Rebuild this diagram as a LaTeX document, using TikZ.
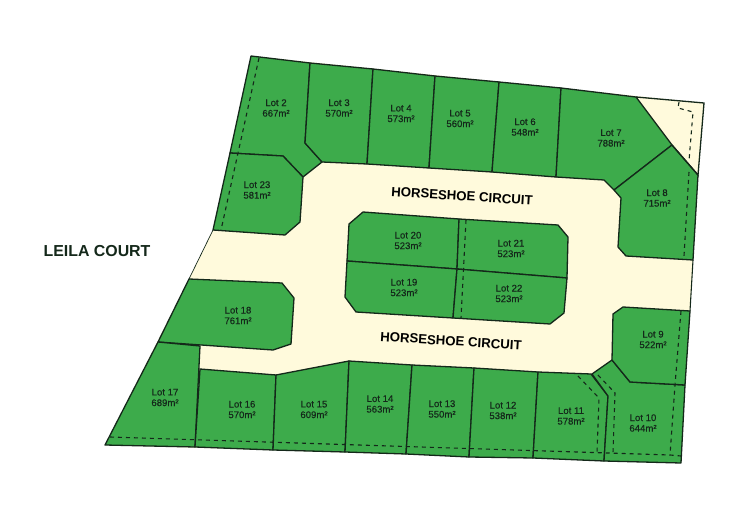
\documentclass[tikz,border=0pt]{standalone}
\usepackage{fontspec}
\setmainfont{Liberation Sans}
\newfontfamily\lotfont[FakeBold=0.3]{Liberation Sans}
\definecolor{lotgreen}{HTML}{3DAB4B}
\definecolor{road}{HTML}{FFFADC}
\definecolor{ink}{HTML}{14281A}
\tikzset{
  lot/.style={fill=lotgreen,draw=ink,line width=1.3pt,line join=round},
  easement/.style={draw=ink,line width=1.1pt,dash pattern=on 4pt off 4pt},
  boundary/.style={draw=ink,line width=0.7pt},
  lotlabel/.style={font=\lotfont\fontsize{9.6}{10.6}\selectfont,text=ink,align=center,inner sep=0pt},
  roadlabel/.style={font=\fontsize{13.2}{15}\selectfont\bfseries,text=black,inner sep=0pt,rotate=-3.6},
  courtlabel/.style={font=\fontsize{15.9}{18}\selectfont\bfseries,text=ink,inner sep=0pt}
}
\newcommand{\lotlab}[4]{\node[lotlabel] (lab#1) at (#2,#3) {Lot #1\\#4};}
\begin{document}
\begin{tikzpicture}[x=1pt,y=-1pt]
\useasboundingbox (0,0) rectangle (750,529);
\fill[white] (0,0) rectangle (750,529);
% land
\fill[road] (251,56) -- (704,103) -- (698,175) -- (693,260) -- (690,311) -- (685,385) -- (681,463) -- (105,445) -- (189,279) -- (213,230) -- cycle;
\draw[boundary] (213,230) -- (189,279);
\draw[boundary,line width=1.1pt] (693,260) -- (690,311);
% top row
\draw[lot] (251,56) -- (310,63) -- (305,143) -- (322,162) -- (303,177) -- (283,156) -- (230,153) -- cycle;
\draw[lot] (230,153) -- (283,156) -- (303,177) -- (300,222) -- (285,235) -- (213,230) -- cycle;
\draw[lot] (310,63) -- (373,69) -- (367,164) -- (322,162) -- (305,143) -- cycle;
\draw[lot] (373,69) -- (435,76) -- (429,168) -- (367,164) -- cycle;
\draw[lot] (435,76) -- (499,82) -- (492,172) -- (429,168) -- cycle;
\draw[lot] (499,82) -- (561,88) -- (556,177) -- (492,172) -- cycle;
\draw[lot] (561,88) -- (636,97) -- (672,145) -- (614,190) -- (604,180) -- (556,177) -- cycle;
\draw[lot] (672,145) -- (698,175) -- (693,260) -- (626,256) -- (618,247) -- (621,198) -- (614,190) -- cycle;
\draw[boundary,line width=1.3pt] (636,97) -- (704,103) -- (698,175) -- (672,145);
% centre block
\draw[lot] (363,212) -- (459,219) -- (457,269) -- (347,261) -- (349,224) -- cycle;
\draw[lot] (459,219) -- (558,225) -- (568,237) -- (567,278) -- (457,269) -- cycle;
\draw[lot] (347,261) -- (457,269) -- (453,318) -- (356,312) -- (345,297) -- cycle;
\draw[lot] (457,269) -- (567,278) -- (564,313) -- (550,324) -- (453,318) -- cycle;
% left and bottom
\draw[lot] (189,279) -- (282,283) -- (294,298) -- (291,344) -- (273,350) -- (158,342) -- cycle;
\draw[lot] (158,342) -- (200,346) -- (195,447) -- (105,445) -- cycle;
\draw[lot] (200,369) -- (276,375) -- (273,450) -- (195,447) -- cycle;
\draw[lot] (276,375) -- (349,361) -- (345,452) -- (273,450) -- cycle;
\draw[lot] (349,361) -- (412,365) -- (406,454) -- (345,452) -- cycle;
\draw[lot] (412,365) -- (474,368) -- (469,457) -- (406,454) -- cycle;
\draw[lot] (474,368) -- (538,372) -- (533,458) -- (469,457) -- cycle;
\draw[lot] (538,372) -- (591,374) -- (608,396) -- (604,461) -- (533,458) -- cycle;
\draw[lot] (592,374) -- (612,360) -- (630,382) -- (685,385) -- (681,463) -- (604,461) -- (608,396) -- cycle;
\draw[lot] (612,360) -- (613,314) -- (623,307) -- (690,311) -- (685,385) -- (630,382) -- cycle;
% easements
\draw[easement] (259,58) -- (221,230);
\draw[easement] (679,102) -- (678,108) -- (693,112) -- (689,161);
\draw[easement] (689,172) -- (684,256);
\draw[easement] (681,311) -- (675,385) -- (670,455) -- (681,456);
\draw[easement] (110,437) -- (670,455);
\draw[easement] (466,220) -- (461,318);
\draw[easement] (578,376) -- (599,398) -- (597,453);
\draw[easement] (598,375) -- (615,393) -- (613,453);
% labels
\lotlab{2}{276}{108}{667m²}
\lotlab{3}{339}{108}{570m²}
\lotlab{4}{401}{113.5}{573m²}
\lotlab{5}{460}{118.5}{560m²}
\lotlab{6}{525}{127}{548m²}
\lotlab{7}{611}{138}{788m²}
\lotlab{8}{657}{198}{715m²}
\lotlab{23}{257}{190}{581m²}
\lotlab{20}{408}{240.5}{523m²}
\lotlab{21}{511}{248.5}{523m²}
\lotlab{19}{404}{287.5}{523m²}
\lotlab{22}{509}{293.5}{523m²}
\lotlab{18}{238}{315.5}{761m²}
\lotlab{17}{165}{397.5}{689m²}
\lotlab{16}{242}{409.5}{570m²}
\lotlab{15}{314}{409.5}{609m²}
\lotlab{14}{380}{404}{563m²}
\lotlab{13}{442}{409}{550m²}
\lotlab{12}{503}{410.5}{538m²}
\lotlab{11}{571}{416}{578m²}
\lotlab{10}{643}{423}{644m²}
\lotlab{9}{653}{339.5}{522m²}
\node[roadlabel] (roadtop) at (462,196) {HORSESHOE CIRCUIT};
\node[roadlabel] (roadbot) at (451,341) {HORSESHOE CIRCUIT};
\node[courtlabel] (court) at (97,251) {LEILA COURT};
\end{tikzpicture}
\end{document}
